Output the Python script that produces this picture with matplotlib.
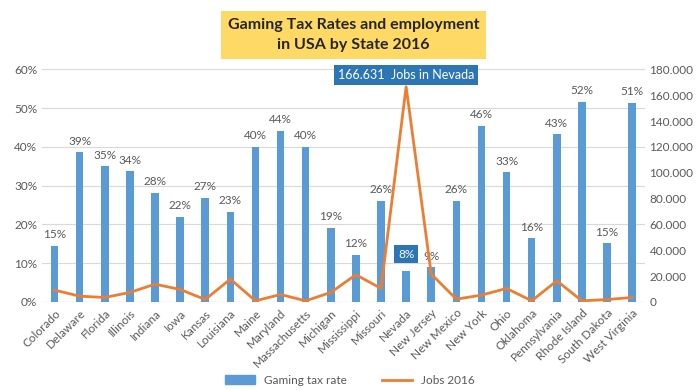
import matplotlib.pyplot as plt
from matplotlib.patches import Patch
from matplotlib.lines import Line2D
from matplotlib.ticker import FuncFormatter, MultipleLocator

plt.rcParams['font.family'] = ['Lato', 'DejaVu Sans']

# data
states = ['Colorado', 'Delaware', 'Florida', 'Illinois', 'Indiana', 'Iowa', 'Kansas',
          'Louisiana', 'Maine', 'Maryland', 'Massachusetts', 'Michigan', 'Mississippi',
          'Missouri', 'Nevada', 'New Jersey', 'New Mexico', 'New York', 'Ohio',
          'Oklahoma', 'Pennsylvania', 'Rhode Island', 'South Dakota', 'West Virginia']
tax_rate = [14.5, 38.6, 35.0, 33.7, 28.1, 22.0, 26.9, 23.2, 40.0, 44.2, 40.0, 19.1,
            12.1, 26.1, 8.0, 8.9, 26.1, 45.5, 33.4, 16.4, 43.3, 51.7, 15.1, 51.4]
rate_labels = ['15%', '39%', '35%', '34%', '28%', '22%', '27%', '23%', '40%', '44%',
               '40%', '19%', '12%', '26%', '8%', '9%', '26%', '46%', '33%', '16%',
               '43%', '52%', '15%', '51%']
jobs = [9100, 4400, 3400, 7300, 13700, 9600, 1800, 17600, 800, 5700, 800, 7300,
        21000, 10400, 166631, 21500, 2100, 5200, 10400, 800, 16300, 800, 1800, 3400]

blue = '#5B9BD5'
orange = '#ED7D31'
grey = '#595959'
x = list(range(len(states)))

fig = plt.figure(figsize=(7, 3.9), dpi=100)
ax = fig.add_axes([0.06, 0.226, 0.861, 0.596])
ax2 = ax.twinx()

ax.bar(x, tax_rate, width=0.3, color=blue, zorder=2)
ax.set_ylim(0, 60)
ax.set_xlim(-0.5, len(states) - 0.5)
ax.yaxis.set_major_locator(MultipleLocator(10))
ax.yaxis.set_major_formatter(FuncFormatter(lambda v, p: '%d%%' % v))
ax.grid(axis='y', color='#D9D9D9', linewidth=0.8, zorder=0)
ax.set_axisbelow(True)

for i, (v, lab) in enumerate(zip(tax_rate, rate_labels)):
    if states[i] == 'Nevada':
        ax.annotate(lab, (i, v), xytext=(0, 8), textcoords='offset points',
                    ha='center', va='bottom', fontsize=8.5, color='white',
                    bbox=dict(boxstyle='square,pad=0.3', fc='#2E75B6', ec='none'))
    else:
        ax.annotate(lab, (i, v), xytext=(0, 4), textcoords='offset points',
                    ha='center', va='bottom', fontsize=8.5, color=grey)

ax2.plot(x, jobs, color=orange, linewidth=2, zorder=3)
ax2.set_ylim(0, 180000)
ax2.yaxis.set_major_locator(MultipleLocator(20000))
ax2.yaxis.set_major_formatter(FuncFormatter(
    lambda v, p: '0' if v == 0 else '{:,.0f}'.format(v).replace(',', '.')))

nv = states.index('Nevada')
ax2.annotate('{:,}  Jobs in Nevada'.format(jobs[nv]).replace(',', '.'),
             (nv, jobs[nv]), xytext=(nv, 175500), textcoords='data',
             ha='center', va='center', fontsize=9, color='white',
             bbox=dict(boxstyle='square,pad=0.3', fc='#2E75B6', ec='none'))

ax.set_xticks(x)
ax.set_xticklabels(states, rotation=45, ha='right', rotation_mode='anchor',
                   fontsize=8.5, color=grey)
for a in (ax, ax2):
    a.tick_params(length=0, labelsize=8.5, colors=grey)
    for s in a.spines.values():
        s.set_visible(False)
ax.tick_params(axis='x', pad=4)
ax.axhline(0, color='#BFBFBF', linewidth=0.8, zorder=1)

fig.text(0.505, 0.91, 'Gaming Tax Rates and employment\nin USA by State 2016',
         ha='center', va='center', fontsize=11.5, fontweight='bold', color='#262626',
         linespacing=1.5,
         bbox=dict(boxstyle='square,pad=0.45', fc='#FFD966', ec='none'))

handles = [Patch(color=blue), Line2D([0], [0], color=orange, linewidth=2)]
fig.legend(handles, ['Gaming tax rate', 'Jobs 2016'], loc='center',
           bbox_to_anchor=(0.5, 0.025), ncol=2, frameon=False, fontsize=8.5,
           labelcolor=grey, columnspacing=3, handlelength=2.5)

fig.savefig('out.png')
